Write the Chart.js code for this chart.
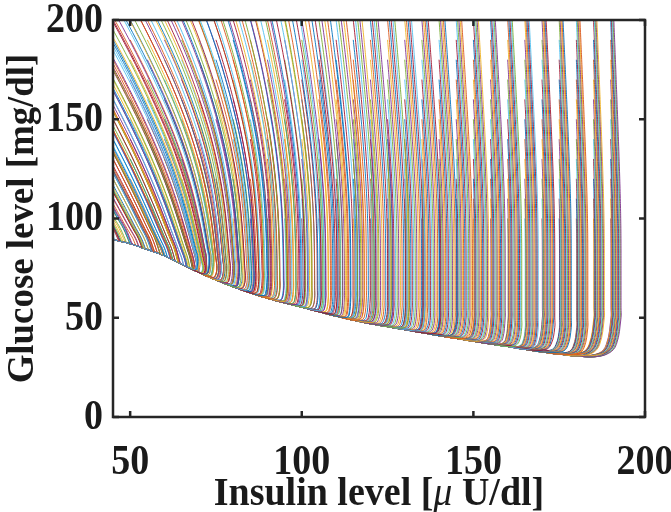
<!DOCTYPE html>
<html>
<head>
<meta charset="utf-8">
<script src="https://cdn.jsdelivr.net/npm/chart.js@4/dist/chart.umd.min.js"></script>
<style>
  html, body { margin: 0; padding: 0; background: #fff; }
  #c { display: block; }
</style>
</head>
<body>
<canvas id="c" width="671" height="512"></canvas>
<script>
// Axis ticks
const xTicks = [50, 100, 150, 200];
const yTicks = [0, 50, 100, 150, 200];

// Starting insulin of each bundle of trajectories [μU/dl]
const bundleInsulin = [0, 5, 10, 15, 20, 25, 30, 35, 40, 45, 50, 55, 60, 65, 70, 75, 80, 85, 90, 95,
                       100, 105, 110, 115, 120, 125, 130, 135, 140, 145, 150, 155, 160, 165, 170, 175, 180, 185, 190];
// Starting glucose levels inside each bundle [mg/dl]
const startGlucose = [240, 230, 220, 210, 200, 190, 180, 170, 160, 150, 140, 130, 120, 110, 100];

// Insulin rise per mg/dl of glucose fall, by insulin level (rows) and glucose level (columns)
const leanInsulin = [0, 30, 45, 60, 75, 90, 105, 120, 150, 190];
const leanGlucose = [250, 200, 150, 120, 100, 90, 80, 70, 60, 40];
const leanRate0   = [0.60, 0.60, 0.60, 0.60, 0.60, 0.60, 0.60, 0.60, 0.60, 0.60];
const leanRate30  = [0.42, 0.40, 0.39, 0.40, 0.42, 0.44, 0.46, 0.46, 0.46, 0.46];
const leanRate45  = [0.34, 0.32, 0.30, 0.31, 0.34, 0.40, 0.45, 0.45, 0.45, 0.45];
const leanRate60  = [0.30, 0.28, 0.25, 0.22, 0.22, 0.25, 0.30, 0.32, 0.32, 0.32];
const leanRate75  = [0.22, 0.20, 0.16, 0.11, 0.07, 0.06, 0.06, 0.06, 0.06, 0.06];
const leanRate90  = [0.15, 0.13, 0.10, 0.06, 0.03, 0.02, 0.01, 0.005, 0, 0];
const leanRate105 = [0.09, 0.085, 0.07, 0.045, 0.025, 0.012, 0.005, 0.002, 0, 0];
const leanRate120 = [0.058, 0.055, 0.048, 0.036, 0.018, 0.009, 0.003, 0, 0, 0];
const leanRate150 = [0.037, 0.036, 0.033, 0.025, 0.012, 0.005, 0.001, 0, 0, 0];
const leanRate190 = [0.023, 0.023, 0.022, 0.018, 0.01, 0.004, 0, 0, 0, 0];
const leanRate = [leanRate0, leanRate30, leanRate45, leanRate60, leanRate75, leanRate90,
                  leanRate105, leanRate120, leanRate150, leanRate190];

// Lower boundary along which the trajectories run back to the left
const floorInsulin = [30, 35, 40, 45, 50, 55, 60, 65, 70, 75, 80, 85, 90, 95, 100, 105, 110, 115, 120, 125,
                      130, 135, 140, 145, 150, 155, 160, 165, 170, 175, 180, 185];
const floorGlucose = [101, 97.5, 93.5, 89.5, 87.3, 84.3, 81.2, 77, 72.8, 69, 65.6, 62.5, 59.8, 57.5, 55.3, 53, 50.8, 48.8, 47, 45.5,
                      44, 42.5, 41, 39.6, 38.2, 36.8, 35.5, 34.1, 32.8, 31.7, 30.8, 30.3];

// Size of the bend where a trajectory meets the lower boundary
const bendInsulin = [45, 100, 130, 160, 180, 190];
const bendHeight  = [3, 6, 8, 10, 13, 18];
const bendWidth   = [2, 3, 4, 5, 7, 9];

// MATLAB default line colours
const palette = ['#0072BD', '#D95319', '#EDB120', '#7E2F8E', '#77AC30', '#4DBEEE', '#A2142F'];

// Position of v inside a sorted (ascending or descending) list: index and fraction
function locate(list, v) {
  const asc = list[list.length - 1] > list[0];
  const n = list.length - 1;
  if (asc ? v <= list[0] : v >= list[0]) return [0, 0];
  if (asc ? v >= list[n] : v <= list[n]) return [n - 1, 1];
  let j = 0;
  while (asc ? list[j + 1] < v : list[j + 1] > v) j++;
  return [j, (v - list[j]) / (list[j + 1] - list[j])];
}

function floorAt(I) {
  const [j, t] = locate(floorInsulin, I);
  return floorGlucose[j] + t * (floorGlucose[j + 1] - floorGlucose[j]);
}

function rateAt(I, G) {
  const [i, s] = locate(leanInsulin, I);
  const [k, t] = locate(leanGlucose, G);
  const r = leanRate;
  const a = r[i][k] + t * (r[i][k + 1] - r[i][k]);
  const b = r[i + 1][k] + t * (r[i + 1][k + 1] - r[i + 1][k]);
  return a + s * (b - a);
}

function bendAt(I) {
  let best = 0;
  bendInsulin.forEach((a, i) => { if (Math.abs(a - I) < Math.abs(bendInsulin[best] - I)) best = i; });
  return [bendHeight[best], bendWidth[best]];
}

// Follows the lean table from a starting point down to the lower boundary
function trajectory(I0, G0) {
  const STEP = 5;
  if (G0 - floorAt(I0) < bendAt(I0)[0]) return null;
  const pts = [{ x: I0, y: G0 }];
  let I = I0, G = G0;
  for (;;) {
    const k1 = rateAt(I, G);
    const k2 = rateAt(I + k1 * STEP / 2, G - STEP / 2);
    const nI = I + k2 * STEP, nG = G - STEP;
    if (nG - floorAt(nI) < bendAt(nI)[0]) {
      if (rateAt(I, G) > 0.15) {
        // steep approach: slide straight onto the boundary
        const eI = I + k2 * (G - floorAt(I)) * 0.8;
        pts.push({ x: eI, y: floorAt(eI) });
        return pts;
      }
      break;
    }
    I = nI; G = nG;
    pts.push({ x: I, y: G });
  }
  const [h, w] = bendAt(I);
  const b1 = I - 0.15 * w, b2 = I - 0.4 * w;
  pts.push({ x: b1, y: floorAt(b1) + 0.35 * h });
  pts.push({ x: b2, y: floorAt(b2) + 0.1 * h });
  for (let j = floorInsulin.length - 1; j >= 0; j--) {
    if (floorInsulin[j] < I - 0.75 * w) pts.push({ x: floorInsulin[j], y: floorGlucose[j] });
  }
  return pts;
}

const datasets = [];
let n = 0;
bundleInsulin.forEach(I0 => {
  startGlucose.forEach(G0 => {
    const pts = trajectory(I0, G0);
    const color = palette[n % palette.length];
    n++;
    if (!pts) return;
    datasets.push({
      data: pts,
      borderColor: color,
      borderWidth: 0.9,
      pointRadius: 0,
      tension: 0.4,
      fill: false
    });
  });
});

const SERIF = '"Liberation Serif", "Times New Roman", serif';
const FONT_PX = 38;

function stretched(ctx, text, x, y, sy, align) {
  ctx.save();
  ctx.translate(x, y);
  ctx.scale(1, sy);
  ctx.textAlign = align;
  ctx.textBaseline = 'middle';
  ctx.fillText(text, 0, 0);
  ctx.restore();
}

// Draws pieces of a label in sequence, centred on (0,0) of the current transform
function drawPieces(ctx, pieces) {
  let total = 0;
  pieces.forEach(p => { ctx.font = p.font; p.w = ctx.measureText(p.text).width; total += p.w; });
  let x = -total / 2;
  ctx.textAlign = 'left';
  ctx.textBaseline = 'middle';
  pieces.forEach(p => { ctx.font = p.font; ctx.fillText(p.text, x, 0); x += p.w; });
}

const framePlugin = {
  id: 'frame',
  afterDatasetsDraw(chart) {
    const { ctx, chartArea: a, scales: { x, y } } = chart;
    ctx.save();
    ctx.strokeStyle = '#262626';
    ctx.lineWidth = 2.5;
    ctx.lineCap = 'butt';
    const seg = (x1, y1, x2, y2) => { ctx.beginPath(); ctx.moveTo(x1, y1); ctx.lineTo(x2, y2); ctx.stroke(); };
    const t = 6;
    xTicks.forEach(v => {
      const px = x.getPixelForValue(v);
      seg(px, a.bottom, px, a.bottom - t);
      seg(px, a.top, px, a.top + t);
    });
    yTicks.forEach(v => {
      const py = y.getPixelForValue(v);
      seg(a.left, py, a.left + t, py);
      seg(a.right, py, a.right - t, py);
    });
    ctx.strokeRect(a.left, a.top, a.right - a.left, a.bottom - a.top);

    ctx.fillStyle = '#1a1a1a';
    ctx.font = 'bold ' + FONT_PX + 'px ' + SERIF;
    xTicks.forEach(v => stretched(ctx, String(v), x.getPixelForValue(v), 463, 1.12, 'center'));
    yTicks.forEach(v => stretched(ctx, String(v), 103, y.getPixelForValue(v) + 1, 1.12, 'right'));

    // x title
    ctx.save();
    ctx.translate((a.left + a.right) / 2, 494);
    ctx.scale(1, 1.08);
    drawPieces(ctx, [
      { text: 'Insulin level [', font: 'bold ' + FONT_PX + 'px ' + SERIF },
      { text: 'μ', font: 'italic ' + FONT_PX + 'px ' + SERIF },
      { text: ' U/dl]', font: 'bold ' + FONT_PX + 'px ' + SERIF }
    ]);
    ctx.restore();

    // y title
    ctx.save();
    ctx.translate(23, (a.top + a.bottom) / 2);
    ctx.rotate(-Math.PI / 2);
    ctx.scale(0.97, 1);
    drawPieces(ctx, [{ text: 'Glucose level [mg/dl]', font: 'bold ' + FONT_PX + 'px ' + SERIF }]);
    ctx.restore();
    ctx.restore();
  }
};

new Chart(document.getElementById('c'), {
  type: 'line',
  data: { datasets },
  options: {
    responsive: false,
    animation: false,
    devicePixelRatio: 1,
    parsing: false,
    normalized: true,
    events: [],
    layout: { padding: { left: 113, right: 26, top: 20, bottom: 95 } },
    plugins: { legend: { display: false }, tooltip: { enabled: false } },
    scales: {
      x: { type: 'linear', min: 45, max: 200, display: false },
      y: { type: 'linear', min: 0, max: 200, display: false }
    }
  },
  plugins: [framePlugin]
});
</script>
</body>
</html>
